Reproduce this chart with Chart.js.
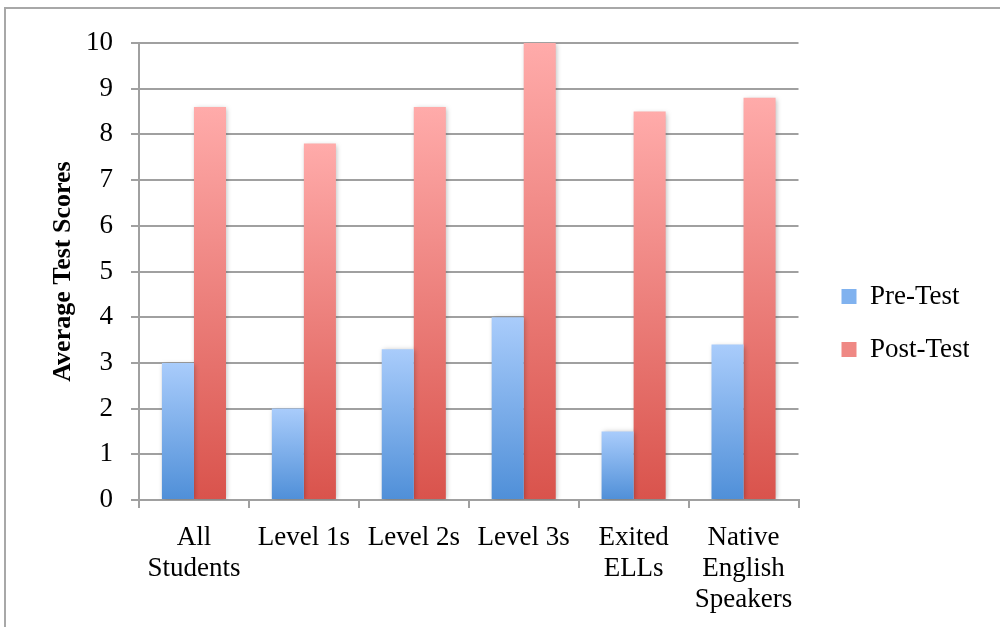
<!DOCTYPE html>
<html>
<head>
<meta charset="utf-8">
<script src="https://cdn.jsdelivr.net/npm/chart.js@4"></script>
<style>
  html, body { margin: 0; padding: 0; background: #fff; overflow: hidden; }
  #wrap { position: relative; width: 1000px; height: 627px; }
  #frame { position: absolute; left: 4px; top: 7px; width: 1200px; height: 900px; border: 2px solid #a8a8a8; box-sizing: border-box; }
  canvas { position: absolute; left: 0; top: 0; }
</style>
</head>
<body>
<div id="wrap">
  <div id="frame"></div>
  <canvas id="c" width="1000" height="627"></canvas>
</div>
<script>
const categories = [["All", "Students"], "Level 1s", "Level 2s", "Level 3s", ["Exited", "ELLs"], ["Native", "English", "Speakers"]];
const preTest = [3.0, 2.0, 3.3, 4.0, 1.5, 3.4];
const postTest = [8.6, 7.8, 8.6, 10.0, 8.5, 8.8];
const seriesNames = ["Pre-Test", "Post-Test"];
const yTitle = "Average Test Scores";
const yTicks = [0, 1, 2, 3, 4, 5, 6, 7, 8, 9, 10];

const FONT = "'Liberation Serif', 'Times New Roman', serif";

function barGradient(top, bottom) {
  return function(ctx) {
    const chart = ctx.chart;
    const ys = chart.scales && chart.scales.y;
    if (ctx.type !== 'data' || !ys || !chart.chartArea) return bottom;
    const v = ctx.raw;
    const y0 = ys.getPixelForValue(0);
    const y1 = ys.getPixelForValue(v);
    if (!isFinite(y0) || !isFinite(y1) || y0 === y1) return bottom;
    const g = chart.ctx.createLinearGradient(0, y1, 0, y0);
    g.addColorStop(0, top);
    g.addColorStop(1, bottom);
    return g;
  };
}

const shadowPlugin = {
  id: 'barShadow',
  beforeDatasetsDraw(chart) {
    const c = chart.ctx;
    c.save();
    c.shadowColor = 'rgba(0,0,0,0.28)';
    c.shadowBlur = 5;
    c.shadowOffsetX = 1;
    c.shadowOffsetY = 1;
  },
  afterDatasetsDraw(chart) {
    chart.ctx.restore();
  }
};

new Chart(document.getElementById('c'), {
  type: 'bar',
  data: {
    labels: categories,
    datasets: [
      {
        label: seriesNames[0],
        data: preTest,
        backgroundColor: barGradient('#a9ccfb', '#4f8fd8'),
        borderWidth: 0,
        categoryPercentage: 0.583,
        barPercentage: 1.0
      },
      {
        label: seriesNames[1],
        data: postTest,
        backgroundColor: barGradient('#ffabaa', '#d9534c'),
        borderWidth: 0,
        categoryPercentage: 0.583,
        barPercentage: 1.0
      }
    ]
  },
  options: {
    responsive: false,
    animation: false,
    events: [],
    layout: { padding: { left: 48, right: 31, top: 19, bottom: 0 } },
    plugins: {
      tooltip: { enabled: false },
      legend: {
        position: 'right',
        align: 'center',
        labels: {
          color: '#000',
          font: { family: FONT, size: 27 },
          boxWidth: 15,
          boxHeight: 15,
          padding: 26,
          generateLabels(chart) {
            const cols = ['#80b2ef', '#ef8884'];
            return chart.data.datasets.map((ds, i) => ({
              text: ds.label,
              fillStyle: cols[i],
              strokeStyle: cols[i],
              lineWidth: 0,
              hidden: false,
              datasetIndex: i,
              fontColor: '#000'
            }));
          }
        }
      }
    },
    scales: {
      x: {
        grid: { display: true, drawOnChartArea: false, drawTicks: true, tickLength: 8, color: '#a0a0a0', lineWidth: 2, offset: true },
        border: { display: true, color: '#a0a0a0', width: 2 },
        ticks: { color: '#000', font: { family: FONT, size: 27, lineHeight: 1.16 }, padding: 14, maxRotation: 0, autoSkip: false },
        afterFit(scale) { scale.height = 627 - 500; }
      },
      padTop: {
        type: 'linear',
        position: 'top',
        display: true,
        grid: { display: false },
        border: { display: false },
        ticks: { display: false },
        afterFit(scale) { scale.height = 24; }
      },
      y: {
        min: 0,
        max: 10,
        afterBuildTicks(scale) { scale.ticks = yTicks.map(v => ({ value: v })); },
        grid: { color: '#a0a0a0', lineWidth: 2, tickLength: 8, drawTicks: true },
        border: { display: true, color: '#a0a0a0', width: 2 },
        ticks: { color: '#000', font: { family: FONT, size: 27 }, padding: 18 },
        title: { display: true, text: yTitle, color: '#000', font: { family: FONT, size: 26, weight: 'bold' }, padding: 0 },
        afterFit(scale) { scale.width = 139 - 48; }
      },
      pad: {
        type: 'linear',
        position: 'right',
        display: true,
        grid: { display: false },
        border: { display: false },
        ticks: { display: false },
        afterFit(scale) { scale.width = 17; }
      }
    }
  },
  plugins: [shadowPlugin]
});
</script>
</body>
</html>
